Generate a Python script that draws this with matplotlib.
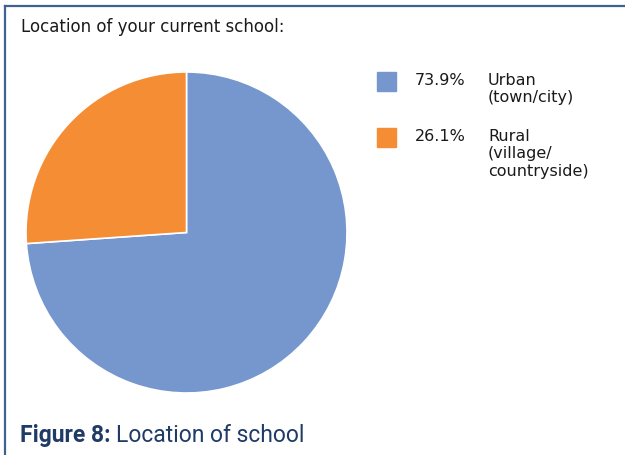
import matplotlib.pyplot as plt
from matplotlib.patches import Rectangle
from matplotlib.lines import Line2D

# data
categories = ['Urban\n(town/city)', 'Rural\n(village/\ncountryside)']
shares = [73.9, 26.1]
colors = ['#7597CE', '#F58D35']

W, H = 625, 455
fig = plt.figure(figsize=(W / 100, H / 100), dpi=100)

def px(x, y):
    # pixel coords (from top-left) -> figure fraction
    return x / W, 1 - y / H

# pie axes: centre (186.5, 232.5), radius 160.5 px
cx, cy, r = 186.5, 232.5, 160.5
ax = fig.add_axes([(cx - r) / W, (H - cy - r) / H, 2 * r / W, 2 * r / H])
ax.pie(shares, colors=colors, startangle=90, counterclock=False,
       wedgeprops=dict(edgecolor='white', linewidth=1.2))
ax.set_xlim(-1, 1)
ax.set_ylim(-1, 1)
ax.axis('off')

# frame (top and left rules only)
fig.add_artist(Line2D([px(5, 0)[0], 1], [px(0, 6)[1]] * 2, color='#3F6290', lw=1.6))
fig.add_artist(Line2D([px(5, 0)[0]] * 2, [0, px(0, 6)[1]], color='#3F6290', lw=1.6))

fig.text(*px(21, 27), 'Location of your current school:', fontsize=12,
         va='center', ha='left', color='#1a1a1a')

# legend
rows_y = [72, 128]
for cat, val, col, y in zip(categories, shares, colors, rows_y):
    x0, y0 = px(377, y + 19)
    fig.add_artist(Rectangle((x0, y0), 19 / W, 19 / H, color=col,
                             transform=fig.transFigure))
    fig.text(*px(415, y + 1), f'{val:.1f}%', fontsize=11.5, va='top', ha='left',
             color='#1a1a1a')
    fig.text(*px(488, y + 1), cat, fontsize=11.5, va='top', ha='left',
             color='#1a1a1a', linespacing=1.2)

# caption: bold prefix then regular text, same baseline
cap_font = ['Roboto', 'DejaVu Sans']
base = px(0, 442)[1]
t1 = fig.text(20 / W, base, 'Figure 8:', fontsize=16.5, fontweight='bold',
              family=cap_font, va='baseline', ha='left', color='#1F3B66')
fig.canvas.draw()
bb = t1.get_window_extent()
fig.text(bb.x1 / W + 5 / W, base, 'Location of school', fontsize=16.5,
         family=cap_font, va='baseline', ha='left', color='#1F3B66')

fig.savefig('out.png', dpi=100)
